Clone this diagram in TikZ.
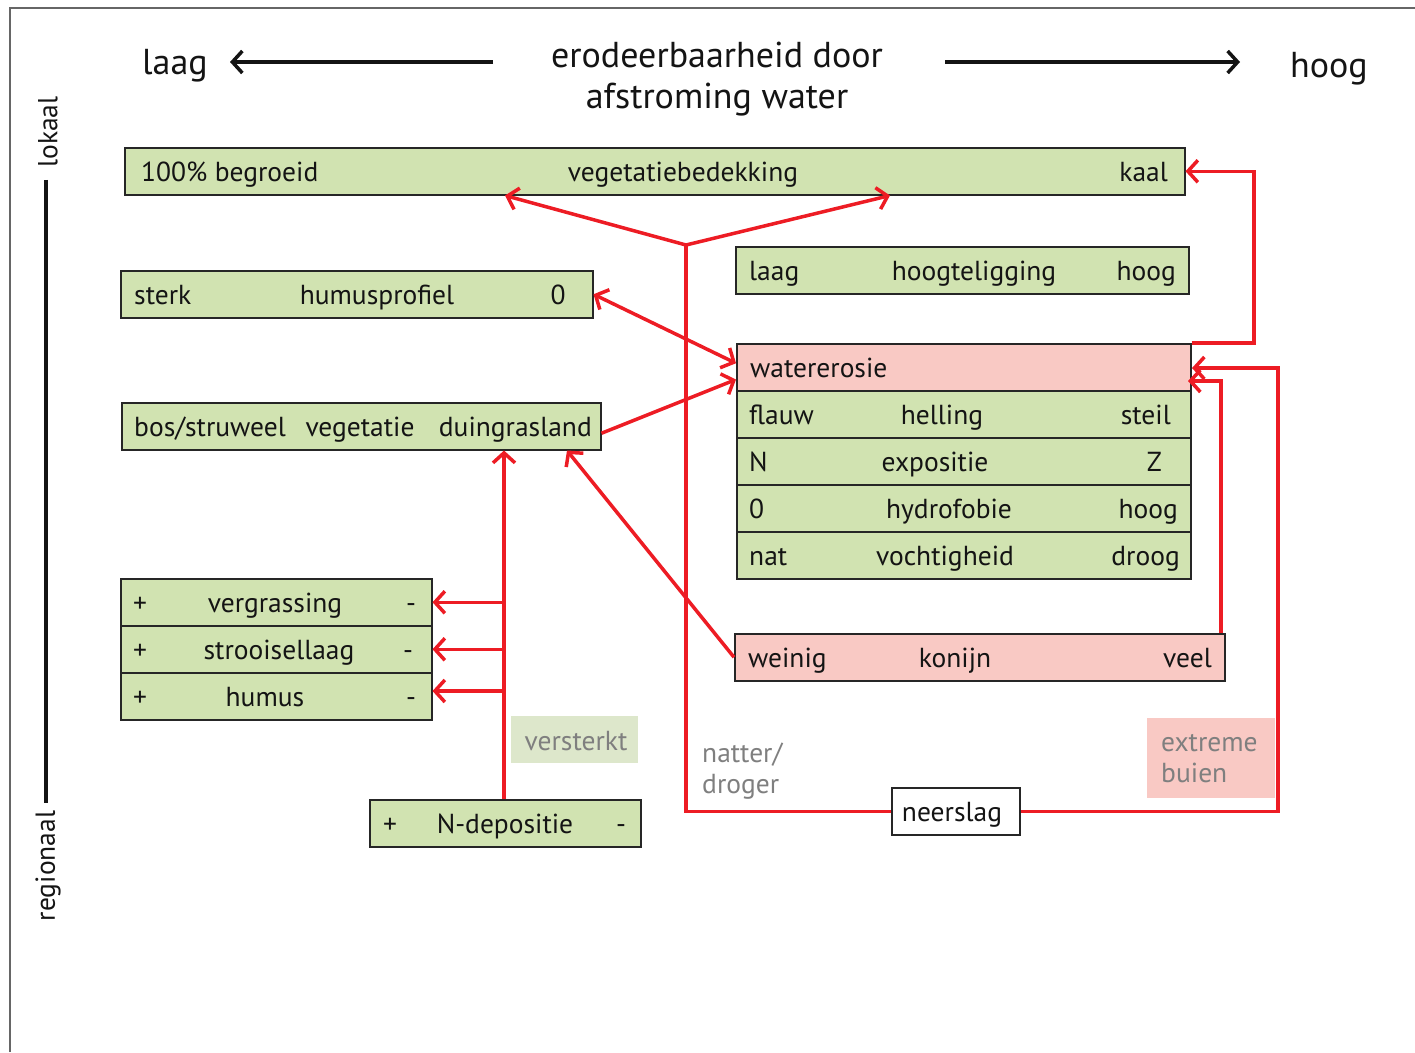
\documentclass[tikz,border=0pt]{standalone}
\usepackage{fontspec}
\setmainfont{PT Sans}
\usetikzlibrary{arrows.meta,positioning,calc}
\usepackage{xcolor}
\definecolor{bargreen}{HTML}{D1E3B1}
\definecolor{barpink}{HTML}{F9C9C4}
\definecolor{linkred}{HTML}{ED1C24}
\definecolor{notegreen}{HTML}{DDE7CB}
\definecolor{notegray}{HTML}{7F7F7F}

\begin{document}
\begin{tikzpicture}[x=1pt, y=-1pt,
    txt/.style={font=\fontsize{27.5}{31}\selectfont, text=black!92, inner sep=0pt},
    head/.style={font=\fontsize{36}{41}\selectfont, text=black!92, inner sep=0pt},
    note/.style={font=\fontsize{27.5}{31}\selectfont, text=notegray, inner sep=0pt, align=left},
    bar/.style={draw=black!85, line width=1.5pt, fill=bargreen, minimum height=47pt, inner sep=0pt, anchor=north west},
    pinkbar/.style={bar, fill=barpink},
    link/.style={draw=linkred, line width=3.5pt},
    tip/.style={-{Straight Barb[length=10pt, width=22pt, line width=3.5pt]}},
    twotip/.style={{Straight Barb[length=10pt, width=22pt, line width=3.5pt]}-{Straight Barb[length=10pt, width=22pt, line width=3.5pt]}}
]
    \useasboundingbox (0,0) rectangle (1415,1052);
    \draw[black!60, line width=1.2pt] (10,1052) -- (10,8) -- (1415,8);

    % Heading
    \node[head, anchor=base] (low) at (175,74) {laag};
    \node[head, anchor=base] (high) at (1329,77) {hoog};
    \node[head, align=center, anchor=north] (title) at (717,42) {erodeerbaarheid door\\afstroming water};
    \coordinate (lefttail) at (493,62);
    \coordinate (lefthead) at (230,62);
    \coordinate (righttail) at (945,62);
    \coordinate (righthead) at (1240,62);
    \draw[black!92, line width=3.5pt, tip] (lefttail) -- (lefthead);
    \draw[black!92, line width=3.5pt, tip] (righttail) -- (righthead);

    % Scale lokaal - regionaal
    \node[txt, rotate=90] (local) at (48,132) {lokaal};
    \node[txt, rotate=90] (regional) at (48,866) {regionaal};
    \draw[black!92, line width=3.5pt] ($(local.west)+(-2,12)$) -- ($(regional.east)+(-2,-8)$);

    % Vegetatiebedekking
    \node[bar, minimum width=1060pt] (cover) at (124,147) {};
    \node[txt, anchor=base west] (coverlo) at (141,181) {100\% begroeid};
    \node[txt, anchor=base] (covername) at (683,181) {vegetatiebedekking};
    \node[txt, anchor=base east] (coverhi) at (1168,181) {kaal};

    % Hoogteligging
    \node[bar, minimum width=453pt] (altitude) at (735,246) {};
    \node[txt, anchor=base west] (altlo) at (749,280) {laag};
    \node[txt, anchor=base] (altname) at (974,280) {hoogteligging};
    \node[txt, anchor=base east] (althi) at (1176,280) {hoog};

    % Humusprofiel
    \node[bar, minimum width=472pt] (profile) at (120,270) {};
    \node[txt, anchor=base west] (proflo) at (134,304) {sterk};
    \node[txt, anchor=base] (profname) at (377,304) {humusprofiel};
    \node[txt, anchor=base] (profhi) at (558,304) {0};

    % Vegetatie
    \node[bar, minimum width=479pt] (veg) at (121,402) {};
    \node[txt, anchor=base west] (veglo) at (134,436) {bos/struweel};
    \node[txt, anchor=base] (vegname) at (360,436) {vegetatie};
    \node[txt, anchor=base east] (veghi) at (592,436) {duingrasland};

    % Watererosie with its factors
    \node[pinkbar, minimum width=454pt] (erosion) at (736,343) {};
    \node[txt, anchor=base west] (erosionname) at (750,377) {watererosie};
    \node[bar, minimum width=454pt] (slope) at (736,390) {};
    \node[txt, anchor=base west] (slopelo) at (749,424) {flauw};
    \node[txt, anchor=base] (slopename) at (942,424) {helling};
    \node[txt, anchor=base east] (slopehi) at (1171,424) {steil};
    \node[bar, minimum width=454pt] (aspect) at (736,437) {};
    \node[txt, anchor=base west] (aspectlo) at (749,471) {N};
    \node[txt, anchor=base] (aspectname) at (935,471) {expositie};
    \node[txt, anchor=base east] (aspecthi) at (1162,471) {Z};
    \node[bar, minimum width=454pt] (hydro) at (736,484) {};
    \node[txt, anchor=base west] (hydrolo) at (749,518) {0};
    \node[txt, anchor=base] (hydroname) at (949,518) {hydrofobie};
    \node[txt, anchor=base east] (hydrohi) at (1178,518) {hoog};
    \node[bar, minimum width=454pt] (moist) at (736,531) {};
    \node[txt, anchor=base west] (moistlo) at (749,565) {nat};
    \node[txt, anchor=base] (moistname) at (945,565) {vochtigheid};
    \node[txt, anchor=base east] (moisthi) at (1180,565) {droog};

    % Konijn
    \node[pinkbar, minimum width=490pt] (rabbit) at (734,633) {};
    \node[txt, anchor=base west] (rabbitlo) at (748,667) {weinig};
    \node[txt, anchor=base] (rabbitname) at (955,667) {konijn};
    \node[txt, anchor=base east] (rabbithi) at (1212,667) {veel};

    % Vergrassing, strooisellaag, humus
    \node[bar, minimum width=311pt] (grass) at (120,578) {};
    \node[txt, anchor=base] (grasslo) at (140,612) {+};
    \node[txt, anchor=base] (grassname) at (275,612) {vergrassing};
    \node[txt, anchor=base] (grasshi) at (411,612) {-};
    \node[bar, minimum width=311pt] (litter) at (120,625) {};
    \node[txt, anchor=base] (litterlo) at (140,659) {+};
    \node[txt, anchor=base] (littername) at (279,659) {strooisellaag};
    \node[txt, anchor=base] (litterhi) at (408,659) {-};
    \node[bar, minimum width=311pt] (humus) at (120,672) {};
    \node[txt, anchor=base] (humuslo) at (140,706) {+};
    \node[txt, anchor=base] (humusname) at (265,706) {humus};
    \node[txt, anchor=base] (humushi) at (411,706) {-};

    % N-depositie
    \node[bar, minimum width=271pt] (ndep) at (369,799) {};
    \node[txt, anchor=base] (ndeplo) at (390,833) {+};
    \node[txt, anchor=base] (ndepname) at (505,833) {N-depositie};
    \node[txt, anchor=base] (ndephi) at (621,833) {-};

    % Neerslag and side notes
    \node[bar, fill=white, minimum width=128pt] (rain) at (891,787) {};
    \node[txt, anchor=base] (rainname) at (952,821) {neerslag};
    \node[fill=notegreen, minimum width=127pt, minimum height=47pt, anchor=north west] (boost) at (511,716) {};
    \node[note, anchor=base] (boostname) at (576,750) {versterkt};
    \node[note, anchor=north west] (wetdry) at (702,743) {natter/\\droger};
    \node[fill=barpink, minimum width=128pt, minimum height=80pt, anchor=north west] (storm) at (1147,718) {};
    \node[note, anchor=north west] (stormname) at (1161,734) {extreme\\buien};

    % Red links
    \coordinate (split) at (686,245);
    \draw[link, tip] (split) -- (505,0 |- cover.south);
    \draw[link, tip] (split) -- (890,0 |- cover.south);
    \draw[link] (split) -- (split |- rain.west) -- (rain.west);
    \draw[link, tip] (rain.east) -- (1278,0 |- rain.east) -- (1278,368) -- (1192,368);
    \draw[link, tip] (1221,0 |- rabbit.north) -- (1221,381) -- (1188,381);
    \draw[link, tip] (erosion.north east) -- (1254,0 |- erosion.north east) -- (1254,0 |- cover.east) -- (cover.east);
    \draw[link, twotip] (profile.east) -- ($(erosion.west)+(0,-4)$);
    \draw[link, tip] ($(veg.east)+(0,7)$) -- ($(erosion.south west)+(0,-12)$);
    \draw[link, tip] (rabbit.west) -- (567,0 |- veg.south);
    \coordinate (trunk) at (504,0 |- ndep.north);
    \draw[link, tip] (trunk) -- (504,0 |- veg.south);
    \draw[link, tip] (504,0 |- grass.east) -- (grass.east);
    \draw[link, tip] (504,0 |- litter.east) -- (litter.east);
    \draw[link, tip] (504,691) -- (humus.east |- 0,691);
\end{tikzpicture}
\end{document}
